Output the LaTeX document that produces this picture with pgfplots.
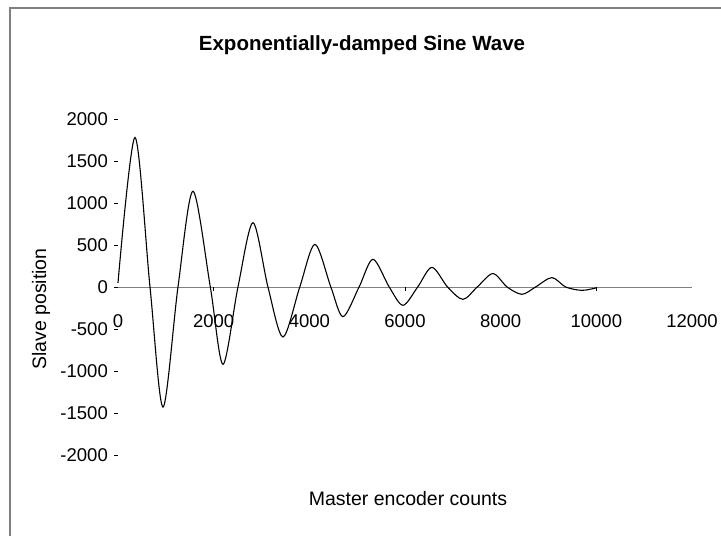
\documentclass[border=0pt]{standalone}
\usepackage{pgfplots}
\pgfplotsset{compat=1.18}
\usepackage{fontspec}
\setmainfont{Liberation Sans}
\begin{document}
\begin{tikzpicture}[x=1pt,y=1pt]
\useasboundingbox (0,0) rectangle (721,536);
\draw[gray, line width=1.2pt] (10,0) -- (10,528) -- (721,528);
\begin{axis}[
 at={(118pt,81pt)}, anchor=south west,
 scale only axis, width=574pt, height=336pt,
 xmin=0, xmax=12000, ymin=-2000, ymax=2000,
 axis x line=middle, axis y line=left,
 x axis line style={-, gray, line width=0.8pt},
 y axis line style={draw=none},
 hide obscured x ticks=false, hide obscured y ticks=false,
 scaled x ticks=false, scaled y ticks=false,
 xtick={0,2000,...,12000}, ytick={-2000,-1500,...,2000},
 tick align=outside, major tick length=4pt,
 tick style={black, line width=0.6pt},
 xtick style={draw=none},
 extra x ticks={2000,6000,10000},
 extra x tick labels={},
 extra x tick style={xtick style={draw=black, line width=0.6pt}},
 /pgf/number format/assume math mode=true,
 /pgf/number format/1000 sep={},
 ticklabel style={font=\fontsize{18.5}{18.5}\selectfont},
 xticklabel style={inner sep=1pt, yshift=-22pt},
 yticklabel style={inner sep=6pt},
 clip=false,
]
\addplot[black, line width=1.1pt, smooth, tension=0.5] coordinates {
(0,50) (355,1780) (669,0) (941,-1430) (1254,0) (1567,1140) (1930,0)
(2195,-920) (2508,0) (2822,765) (3135,0) (3449,-595) (3800,0) (4117,508)
(4450,0) (4703,-353) (5040,0) (5330,330) (5670,0) (5957,-218) (6265,0)
(6563,234) (6890,0) (7211,-147) (7510,0) (7838,160) (8135,0) (8444,-87)
(8730,0) (9071,112) (9360,0) (9700,-40) (10000,-10)
};
\end{axis}
\node[font=\bfseries\fontsize{20.5}{20.5}\selectfont] at (362,491) {Exponentially-damped Sine Wave};
\node[font=\fontsize{19.5}{19.5}\selectfont] at (408,37) {Master encoder counts};
\node[rotate=90, font=\fontsize{19.5}{19.5}\selectfont] at (41,227) {Slave position};
\end{tikzpicture}
\end{document}
